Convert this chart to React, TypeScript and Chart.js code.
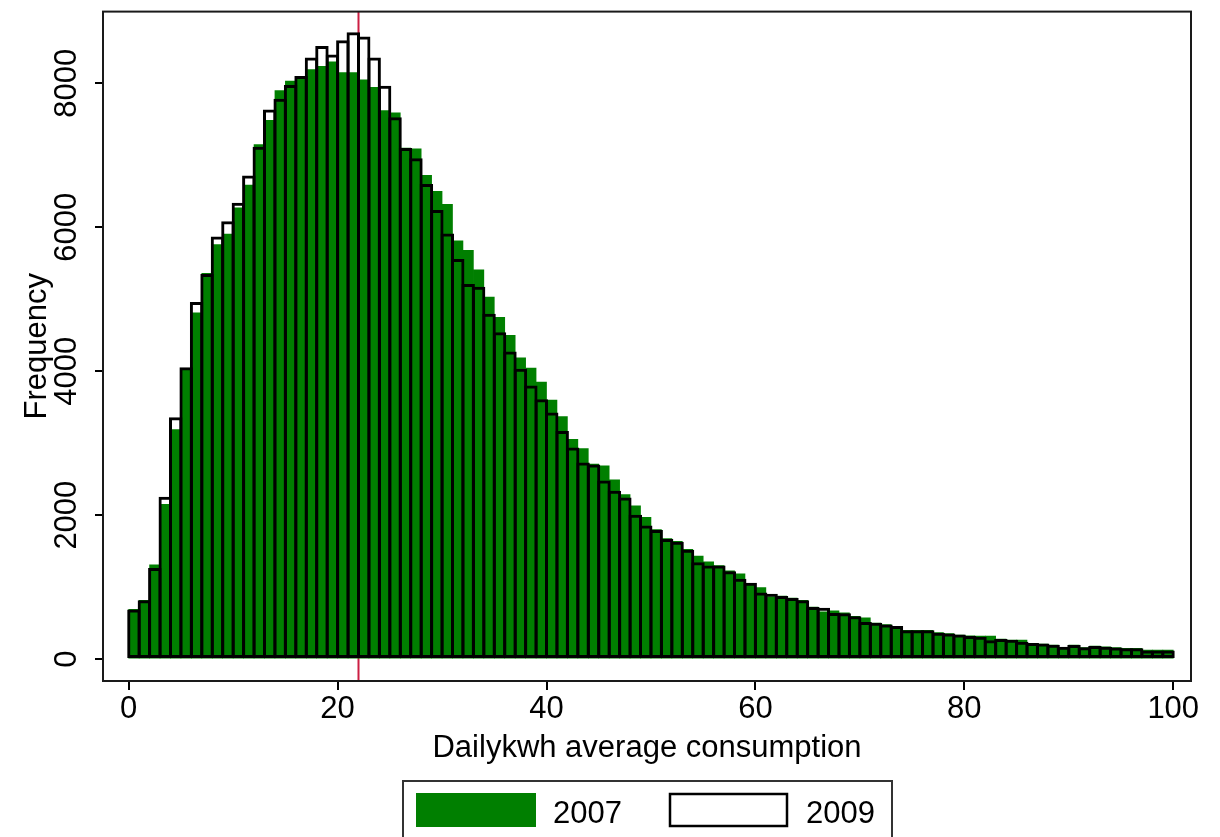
import React, { useEffect, useRef } from "react";
import { Chart, registerables } from "chart.js";

Chart.register(...registerables);

// ---- data ----
const BIN_WIDTH = 1;
const binStarts = Array.from({ length: 100 }, (_, i) => i * BIN_WIDTH); // histogram bins 0..99

const freq2007 = [
  690, 817, 1310, 2150, 3190, 4030, 4810, 5360, 5760, 5905,
  6270, 6585, 7150, 7485, 7900, 8030, 8070, 8190, 8235, 8300,
  8150, 8150, 8050, 7945, 7620, 7590, 7100, 7090, 6720, 6500,
  6320, 5810, 5680, 5410, 5030, 4750, 4500, 4185, 4045, 3850,
  3600, 3370, 3055, 2925, 2710, 2685, 2490, 2285, 2130, 1970,
  1800, 1675, 1635, 1525, 1430, 1350, 1300, 1225, 1185, 1025,
  992, 865, 876, 849, 817, 724, 655, 669, 641, 595,
  572, 502, 480, 434, 401, 401, 401, 369, 355, 332,
  323, 318, 318, 277, 263, 263, 217, 210, 194, 161,
  194, 161, 180, 171, 161, 148, 148, 125, 125, 125,
];

const freq2009 = [
  690, 817, 1265, 2255, 3360, 4055, 4960, 5350, 5870, 6085,
  6340, 6720, 7120, 7635, 7785, 7975, 8100, 8360, 8520, 8400,
  8600, 8710, 8650, 8360, 7965, 7530, 7100, 6960, 6600, 6240,
  5915, 5560, 5210, 5175, 4800, 4540, 4275, 4035, 3800, 3610,
  3425, 3170, 2940, 2730, 2705, 2480, 2340, 2245, 2005, 1855,
  1795, 1670, 1630, 1520, 1345, 1300, 1300, 1220, 1115, 1060,
  925, 909, 876, 849, 817, 724, 712, 641, 636, 595,
  514, 505, 482, 460, 401, 401, 401, 367, 357, 340,
  320, 309, 263, 280, 270, 240, 225, 215, 200, 170,
  194, 165, 182, 171, 161, 150, 150, 120, 120, 120,
];

const seriesLabels = ["2007", "2009"];
const xTicks = [0, 20, 40, 60, 80, 100];
const yTicks = [0, 2000, 4000, 6000, 8000];
const referenceLineX = 22;
const xTitle = "Dailykwh average consumption";
const yTitle = "Frequency";

// ---- style ----
const FONT = "'Liberation Sans', Arial, Helvetica, sans-serif";
const FONT_SIZE = 31;
const GREEN = "#007f00";
const RED = "#cc1f43";
const FRAME = "#1a1a1a";

const overlayPlugin = {
  id: "stataOverlay",
  beforeDatasetsDraw(chart: any) {
    const { ctx, chartArea: a, scales } = chart;
    const px = scales.x.getPixelForValue(referenceLineX);
    ctx.save();
    ctx.strokeStyle = RED;
    ctx.lineWidth = 2;
    ctx.beginPath();
    ctx.moveTo(px, a.top);
    ctx.lineTo(px, a.bottom);
    ctx.stroke();
    ctx.restore();
  },
  afterDraw(chart: any) {
    const { ctx, chartArea: a } = chart;
    ctx.save();
    // frame
    ctx.strokeStyle = FRAME;
    ctx.lineWidth = 2;
    ctx.strokeRect(a.left, a.top, a.right - a.left, a.bottom - a.top);

    // axis titles
    ctx.fillStyle = "#000";
    ctx.font = `${FONT_SIZE}px ${FONT}`;
    ctx.textAlign = "center";
    ctx.textBaseline = "alphabetic";
    ctx.fillText(xTitle, (a.left + a.right) / 2, 757);
    ctx.save();
    ctx.translate(46, (a.top + a.bottom) / 2);
    ctx.rotate(-Math.PI / 2);
    ctx.fillText(yTitle, 0, 0);
    ctx.restore();

    // legend
    const ds = chart.data.datasets;
    ctx.strokeStyle = "#333";
    ctx.lineWidth = 2;
    ctx.strokeRect(403, 781, 489, 80);
    ctx.fillStyle = GREEN;
    ctx.fillRect(416, 793, 120, 34);
    ctx.fillStyle = "#000";
    ctx.textAlign = "left";
    ctx.fillText(ds[0].label, 553, 823);
    ctx.fillStyle = "#fff";
    ctx.fillRect(670, 794, 117, 32);
    ctx.strokeStyle = "#000";
    ctx.lineWidth = 2.5;
    ctx.strokeRect(670, 794, 117, 32);
    ctx.fillStyle = "#000";
    ctx.fillText(ds[1].label, 806, 823);
    ctx.restore();
  },
};

export default function App() {
  const canvasRef = useRef<HTMLCanvasElement | null>(null);

  useEffect(() => {
    const canvas = canvasRef.current;
    if (!canvas) return;
    const tickFont = { family: FONT, size: FONT_SIZE };
    const chart = new Chart(canvas, {
      type: "bar",
      data: {
        datasets: [
          {
            label: seriesLabels[0],
            data: binStarts.map((b, i) => ({ x: b + BIN_WIDTH / 2, y: freq2007[i] })),
            backgroundColor: GREEN,
            borderWidth: 0,
            grouped: false,
            order: 2,
            barPercentage: 1,
            categoryPercentage: 1,
          } as any,
          {
            label: seriesLabels[1],
            data: binStarts.map((b, i) => ({ x: b + BIN_WIDTH / 2, y: freq2009[i] })),
            backgroundColor: "rgba(0,0,0,0)",
            borderColor: "#000",
            borderWidth: 3,
            borderSkipped: false,
            grouped: false,
            order: 1,
            barPercentage: 1.287,
            categoryPercentage: 1,
          } as any,
        ],
      },
      options: {
        animation: false,
        responsive: false,
        events: [],
        layout: { padding: { left: 0, top: 9, right: 29, bottom: 0 } },
        plugins: {
          legend: { display: false },
          tooltip: { enabled: false },
        },
        scales: {
          x: {
            type: "linear",
            offset: false,
            min: -2.46,
            max: 101.7,
            afterBuildTicks: (s: any) => {
              s.ticks = xTicks.map((v) => ({ value: v }));
            },
            afterFit: (s: any) => {
              s.height = 156;
            },
            grid: {
              offset: false,
              drawOnChartArea: false,
              drawTicks: true,
              tickLength: 9,
              color: "#000",
              lineWidth: 2,
            },
            border: { display: false },
            ticks: {
              color: "#000",
              font: tickFont,
              padding: 1,
              maxRotation: 0,
              minRotation: 0,
              autoSkip: false,
              callback: (v: any) => String(v),
            },
          },
          y: {
            type: "linear",
            min: -304.5,
            max: 8996.5,
            afterBuildTicks: (s: any) => {
              s.ticks = yTicks.map((v) => ({ value: v }));
            },
            afterFit: (s: any) => {
              s.width = 103;
            },
            grid: {
              drawOnChartArea: false,
              drawTicks: true,
              tickLength: 8,
              color: "#000",
              lineWidth: 2,
            },
            border: { display: false },
            ticks: {
              color: "#000",
              font: tickFont,
              minRotation: 90,
              maxRotation: 90,
              crossAlign: "center",
              padding: -7,
              autoSkip: false,
              callback: (v: any) => String(v),
            },
          },
        },
      } as any,
      plugins: [overlayPlugin],
    });
    return () => chart.destroy();
  }, []);

  return (
    <div style={{ position: "fixed", left: 0, top: 0, width: 1220, height: 837, background: "#fff" }}>
      <canvas ref={canvasRef} width={1220} height={837} style={{ display: "block" }} />
    </div>
  );
}
